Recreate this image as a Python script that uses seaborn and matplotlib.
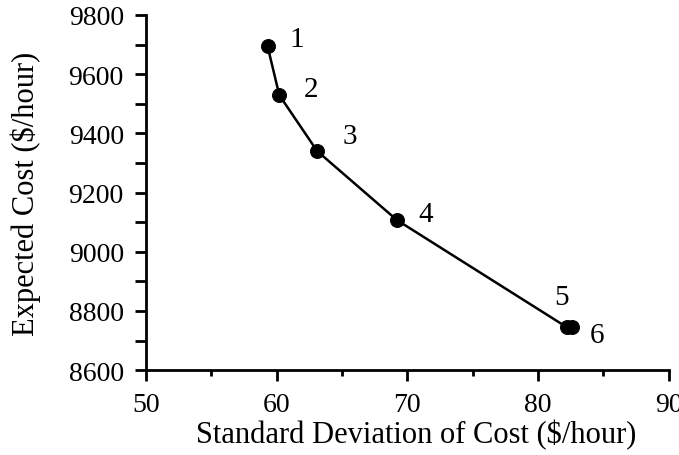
import matplotlib
matplotlib.use("Agg")
import matplotlib.pyplot as plt
import seaborn as sns
import pandas as pd
from matplotlib.ticker import MultipleLocator

labels = ["1", "2", "3", "4", "5", "6"]
std_dev = [59.3, 60.2, 63.1, 69.2, 82.2, 82.6]
expected_cost = [9695, 9529, 9340, 9107, 8745, 8745]
label_dx = [2.2, 2.4, 2.5, 2.2, -0.4, 1.9]
label_dy = [25, 20, 50, 20, 102, -25]

df = pd.DataFrame({"sd": std_dev, "cost": expected_cost, "label": labels})

sns.set_theme(style="ticks")
plt.rcParams["font.family"] = ["Liberation Serif", "DejaVu Serif"]

fig = plt.figure(figsize=(6.79, 4.56), dpi=100)
ax = fig.add_axes([0.215, 0.186, 0.77, 0.779])

sns.lineplot(data=df, x="sd", y="cost", sort=False, color="black", lw=1.8,
             marker="o", markersize=10, markeredgecolor="black", ax=ax)

for lab, x, y, dx, dy in zip(labels, std_dev, expected_cost, label_dx, label_dy):
    ax.text(x + dx, y + dy, lab, fontsize=21, ha="center", va="center", color="black")

ax.set_xlim(50, 90)
ax.set_ylim(8600, 9800)
ax.xaxis.set_major_locator(MultipleLocator(10))
ax.xaxis.set_minor_locator(MultipleLocator(5))
ax.yaxis.set_major_locator(MultipleLocator(200))
ax.yaxis.set_minor_locator(MultipleLocator(100))
ax.tick_params(which="major", length=8, width=2, labelsize=20, color="black", labelcolor="black", pad=8)
ax.tick_params(axis="x", which="minor", length=4, width=2, color="black")
ax.tick_params(axis="y", which="minor", length=8, width=2, color="black")
for s in ["left", "bottom"]:
    ax.spines[s].set_linewidth(2)
    ax.spines[s].set_color("black")
sns.despine(ax=ax)
ax.set_xlabel("Standard Deviation of Cost ($/hour)", fontsize=22, color="black", labelpad=1)
ax.xaxis.label.set_x(0.516)
ax.set_ylabel("Expected Cost ($/hour)", fontsize=22, color="black", labelpad=20)

fig.savefig("out.png", dpi=100)
